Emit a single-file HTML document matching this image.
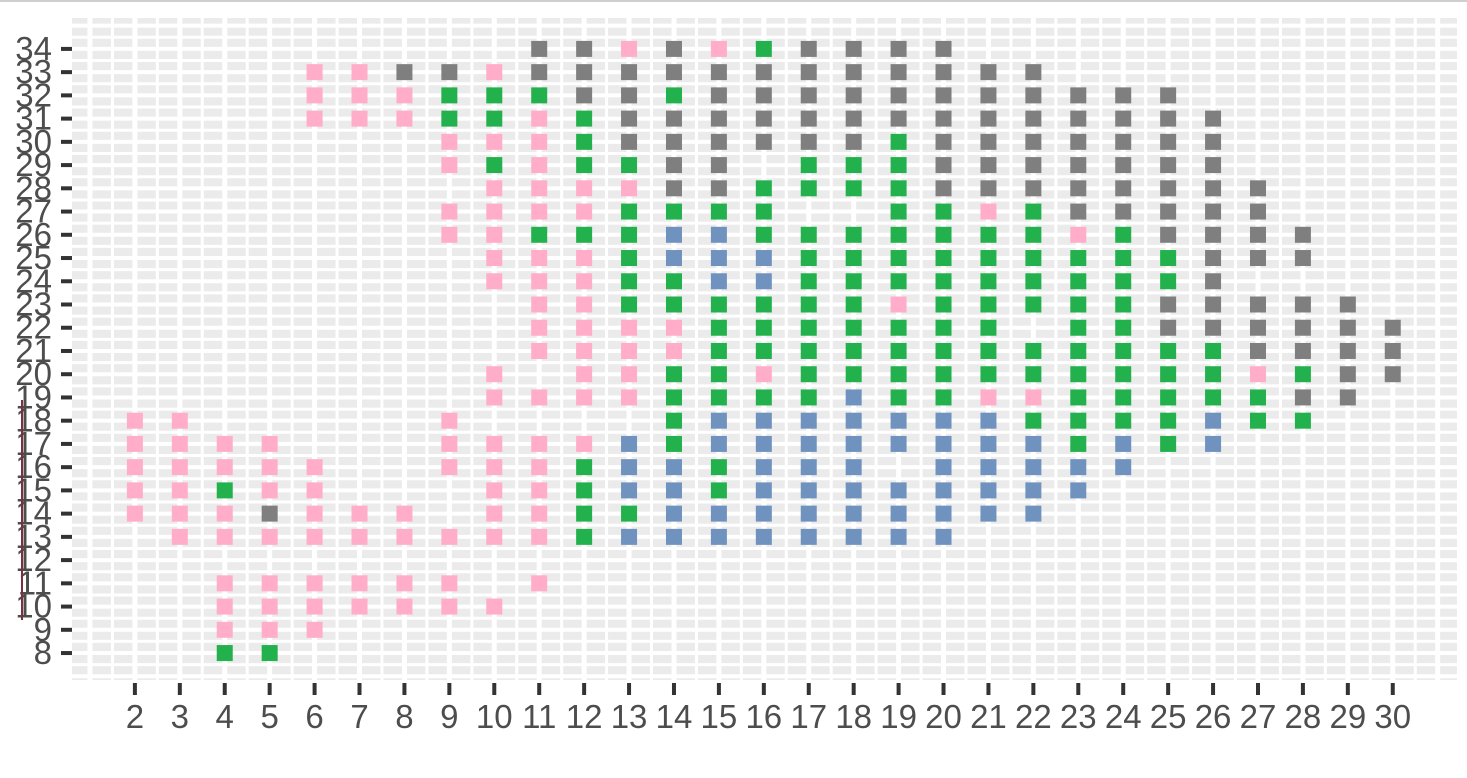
<!DOCTYPE html>
<html><head><meta charset="utf-8"><style>
html,body{margin:0;padding:0;background:#fff;width:1467px;height:778px;overflow:hidden}
svg text{font-family:"Liberation Sans",sans-serif;fill:#4d4d4d}
.xl{font-size:33px}
.yl{font-size:33px}
</style></head><body>
<svg id="chart" width="1467" height="778" xmlns="http://www.w3.org/2000/svg">
<line x1="0" y1="1" x2="1467" y2="1" stroke="#cfcfcf" stroke-width="2"/>
<rect x="72" y="18" width="1385" height="662" fill="#ebebeb"/>
<g id="grid"></g><g id="pts"></g><g id="axes"></g>
<line x1="22" y1="400" x2="22" y2="620" stroke="#7a3040" stroke-width="2"/>
</svg>
<script>
const xCategories=[2,3,4,5,6,7,8,9,10,11,12,13,14,15,16,17,18,19,20,21,22,23,24,25,26,27,28,29,30];
const yTicks=[8,9,10,11,12,13,14,15,16,17,18,19,20,21,22,23,24,25,26,27,28,29,30,31,32,33,34];
const colorMap={P:'#ffadc9',G:'#22b14c',K:'#7f7f7f',B:'#7092be'};
// per column: "y:category" pairs
const col2="18P 17P 16P 15P 14P";
const col3="18P 17P 16P 15P 14P 13P";
const col4="17P 16P 15G 14P 13P 11P 10P 9P 8G";
const col5="17P 16P 15P 14K 13P 11P 10P 9P 8G";
const col6="33P 32P 31P 16P 15P 14P 13P 11P 10P 9P";
const col7="33P 32P 31P 14P 13P 11P 10P";
const col8="33K 32P 31P 14P 13P 11P 10P";
const col9="33K 32G 31G 30P 29P 27P 26P 18P 17P 16P 13P 11P 10P";
const col10="33P 32G 31G 30P 29G 28P 27P 26P 25P 24P 20P 19P 17P 16P 15P 14P 13P 10P";
const col11="34K 33K 32G 31P 30P 29P 28P 27P 26G 25P 24P 23P 22P 21P 19P 17P 16P 15P 14P 13P 11P";
const col12="34K 33K 32K 31G 30G 29G 28P 27P 26G 25P 24P 23P 22P 21P 20P 19P 17P 16G 15G 14G 13G";
const col13="34P 33K 32K 31K 30K 29G 28P 27G 26G 25G 24G 23G 22P 21P 20P 19P 17B 16B 15B 14G 13B";
const col14="34K 33K 32G 31K 30K 29K 28K 27G 26B 25B 24G 23G 22P 21P 20G 19G 18G 17G 16B 15B 14B 13B";
const col15="34P 33K 32K 31K 30K 29K 28K 27G 26B 25B 24B 23G 22G 21G 20G 19G 18B 17B 16G 15G 14B 13B";
const col16="34G 33K 32K 31K 30K 28G 27G 26G 25B 24B 23G 22G 21G 20P 19G 18B 17B 16B 15B 14B 13B";
const col17="34K 33K 32K 31K 30K 29G 28G 26G 25G 24G 23G 22G 21G 20G 19G 18B 17B 16B 15B 14B 13B";
const col18="34K 33K 32K 31K 30K 29G 28G 26G 25G 24G 23G 22G 21G 20G 19B 18B 17B 16B 15B 14B 13B";
const col19="34K 33K 32K 31K 30G 29G 28G 27G 26G 25G 24G 23P 22G 21G 20G 19G 18B 17B 15B 14B 13B";
const col20="34K 33K 32K 31K 30K 29K 28K 27G 26G 25G 24G 23G 22G 21G 20G 19G 18B 17B 16B 15B 14B 13B";
const col21="33K 32K 31K 30K 29K 28K 27P 26G 25G 24G 23G 22G 21G 20G 19P 18B 17B 16B 15B 14B";
const col22="33K 32K 31K 30K 29K 28K 27G 26G 25G 24G 23G 21G 20G 19P 18G 17B 16B 15B 14B";
const col23="32K 31K 30K 29K 28K 27K 26P 25G 24G 23G 22G 21G 20G 19G 18G 17G 16B 15B";
const col24="32K 31K 30K 29K 28K 27K 26G 25G 24G 23G 22G 21G 20G 19G 18G 17B 16B";
const col25="32K 31K 30K 29K 28K 27K 26K 25G 24G 23K 22K 21G 20G 19G 18G 17G";
const col26="31K 30K 29K 28K 27K 26K 25K 24K 23K 22K 21G 20G 19G 18B 17B";
const col27="28K 27K 26K 25K 23K 22K 21K 20P 19G 18G";
const col28="26K 25K 23K 22K 21K 20G 19K 18G";
const col29="23K 22K 21K 20K 19K";
const col30="22K 21K 20K";
const columns=[col2,col3,col4,col5,col6,col7,col8,col9,col10,col11,col12,col13,col14,col15,col16,col17,col18,col19,col20,col21,col22,col23,col24,col25,col26,col27,col28,col29,col30];

const NS='http://www.w3.org/2000/svg';
const X0=72,X1=1457,Y0=18,Y1=680,xMin=0.6,xMax=31.43,yMin=6.84,yMax=35.33;
const sx=v=>X0+(v-xMin)/(xMax-xMin)*(X1-X0);
const sy=v=>Y1-(v-yMin)/(yMax-yMin)*(Y1-Y0);
function mk(tag,attrs,parent){const e=document.createElementNS(NS,tag);for(const k in attrs)e.setAttribute(k,attrs[k]);parent.appendChild(e);return e;}
const grid=document.getElementById('grid'),pts=document.getElementById('pts'),axes=document.getElementById('axes');
for(let v=1;v<=31.01;v+=0.5){
  const major=Number.isInteger(v);
  const l=mk('line',{x1:sx(v),x2:sx(v),y1:Y0,y2:Y1,stroke:'#fff','stroke-width':major?5:3},grid);
  
  
}
for(let v=7;v<=35.01;v+=0.5){
  const major=Number.isInteger(v);
  const l=mk('line',{x1:X0,x2:X1,y1:sy(v),y2:sy(v),stroke:'#fff','stroke-width':major?4:3},grid);
  
  
}
columns.forEach((s,i)=>{
  const x=xCategories[i];
  s.split(' ').forEach(tok=>{
    const y=parseInt(tok),c=tok.slice(-1);
    const r=mk('rect',{x:sx(x)-8,y:sy(y)-8,width:16,height:16,fill:colorMap[c]},pts);
    
    
  });
});
xCategories.forEach(v=>{
  const t=mk('line',{x1:sx(v),x2:sx(v),y1:Y1+3,y2:Y1+15,stroke:'#333','stroke-width':4},axes);
  
  
  const tx=mk('text',{x:sx(v),y:728,'text-anchor':'middle','class':'xl'},axes);
  tx.textContent=v;
  
  
});
yTicks.forEach(v=>{
  const t=mk('line',{x1:61,x2:72,y1:sy(v),y2:sy(v),stroke:'#333','stroke-width':4},axes);
  
  
  const tx=mk('text',{x:52,y:sy(v)+11,'text-anchor':'end','class':'yl'},axes);
  tx.textContent=v;
  
  
});
</script>
</body></html>
